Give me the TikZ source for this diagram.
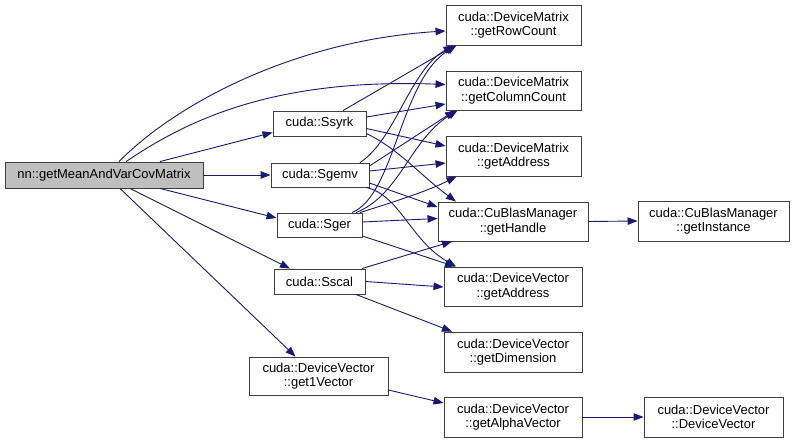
\documentclass[tikz,border=0pt]{standalone}
\usepackage{fontspec}
\setmainfont{Liberation Sans}
\usetikzlibrary{arrows.meta}
\definecolor{edgeblue}{HTML}{191970}
\definecolor{boxline}{HTML}{404040}
\definecolor{mainfill}{HTML}{BFBFBF}
\tikzset{
  box/.style={draw=boxline, line width=0.9pt, fill=white, rectangle, inner sep=0pt,
    align=center, font=\fontsize{13}{14.5}\selectfont},
  mainbox/.style={box, fill=mainfill},
  e/.style={draw=edgeblue, line width=0.9pt, -{Triangle[length=10pt,width=7.5pt]}},
}
\begin{document}
\begin{tikzpicture}[x=1pt,y=-1pt]
\useasboundingbox (0,0) rectangle (795,443);
% nodes
\node[mainbox, minimum width=198, minimum height=26] (main) at (104,175) {nn::getMeanAndVarCovMatrix};
\node[box, minimum width=93, minimum height=25] (ssyrk) at (319.5,123.5) {cuda::Ssyrk};
\node[box, minimum width=98, minimum height=24] (sgemv) at (320,175) {cuda::Sgemv};
\node[box, minimum width=85, minimum height=24] (sger) at (319.5,225) {cuda::Sger};
\node[box, minimum width=91, minimum height=25] (sscal) at (319.5,281.5) {cuda::Sscal};
\node[box, minimum width=139, minimum height=38] (onevec) at (318.5,376) {cuda::DeviceVector\\::get1Vector};
\node[box, minimum width=135, minimum height=40] (rowc) at (513.5,25) {cuda::DeviceMatrix\\::getRowCount};
\node[box, minimum width=135, minimum height=39] (colc) at (513.5,90.5) {cuda::DeviceMatrix\\::getColumnCount};
\node[box, minimum width=135, minimum height=40] (dmaddr) at (513.5,156) {cuda::DeviceMatrix\\::getAddress};
\node[box, minimum width=150, minimum height=39] (handle) at (513,221.5) {cuda::CuBlasManager\\::getHandle};
\node[box, minimum width=138, minimum height=39] (dvaddr) at (513,286.5) {cuda::DeviceVector\\::getAddress};
\node[box, minimum width=138, minimum height=40] (dim) at (513,352) {cuda::DeviceVector\\::getDimension};
\node[box, minimum width=138, minimum height=40] (alpha) at (513,417) {cuda::DeviceVector\\::getAlphaVector};
\node[box, minimum width=151, minimum height=40] (inst) at (713.5,221) {cuda::CuBlasManager\\::getInstance};
\node[box, minimum width=139, minimum height=40] (dvctor) at (713.5,417) {cuda::DeviceVector\\::DeviceVector};
% edges from main
\draw[e] ([xshift=15]main.north) .. controls (180,100) and (300,40) .. ([yshift=-6]rowc.west);
\draw[e] ([xshift=22]main.north) .. controls (185,122) and (270,78) .. ([yshift=6]colc.west);
\draw[e] ([xshift=56]main.north) -- ([yshift=-9]ssyrk.west);
\draw[e] (main.east) -- (sgemv.west);
\draw[e] ([xshift=56]main.south) -- ([yshift=7]sger.west);
\draw[e] ([xshift=26]main.south) -- ([xshift=-29.5]sscal.north);
\draw[e] ([xshift=16]main.south) -- ([xshift=-23]onevec.north);
% Ssyrk
\draw[e] ([xshift=23.5]ssyrk.north) -- ([xshift=-58.5]rowc.south);
\draw[e] ([yshift=6.5]ssyrk.east) -- ([yshift=-13.5]colc.west);
\draw[e] ([yshift=-5]ssyrk.east) -- ([yshift=10]dmaddr.west);
\draw[e] ([yshift=-10]ssyrk.east) .. controls (400,150) and (420,175) .. ([xshift=-57]handle.north);
% Sgemv
\draw[e] ([xshift=40]sgemv.north) .. controls (395,140) and (410,70) .. ([xshift=-60]rowc.south);
\draw[e] ([yshift=9]sgemv.east) -- ([xshift=-58.5]colc.south);
\draw[e] ([yshift=4]sgemv.east) -- ([yshift=-7]dmaddr.west);
\draw[e] ([yshift=-8]sgemv.east) -- ([yshift=14.5]handle.west);
\draw[e] ([xshift=46]sgemv.south) .. controls (400,195) and (410,240) .. ([xshift=-57]dvaddr.north);
% Sger
\draw[e] ([xshift=32.5]sger.north) .. controls (395,195) and (400,80) .. ([xshift=-57]rowc.south);
\draw[e] ([xshift=36.5]sger.north) .. controls (400,195) and (410,140) .. ([xshift=-56]colc.south);
\draw[e] ([xshift=40.5]sger.north) .. controls (400,200) and (430,190) .. ([xshift=-57]dmaddr.south);
\draw[e] ([yshift=3]sger.east) -- ([yshift=3]handle.west);
\draw[e] ([yshift=-11]sger.east) -- ([xshift=-58]dvaddr.north);
% Sscal
\draw[e] ([xshift=42.5]sscal.north) -- ([xshift=-61]handle.south);
\draw[e] (sscal.east) -- ([yshift=-0.5]dvaddr.west);
\draw[e] ([xshift=36.5]sscal.south) -- ([xshift=-61]dim.north);
% others
\draw[e] ([yshift=-14]onevec.east) -- ([yshift=14]alpha.west);
\draw[e] (alpha.east) -- (dvctor.west);
\draw[e] (handle.east) -- (inst.west);
\end{tikzpicture}
\end{document}
